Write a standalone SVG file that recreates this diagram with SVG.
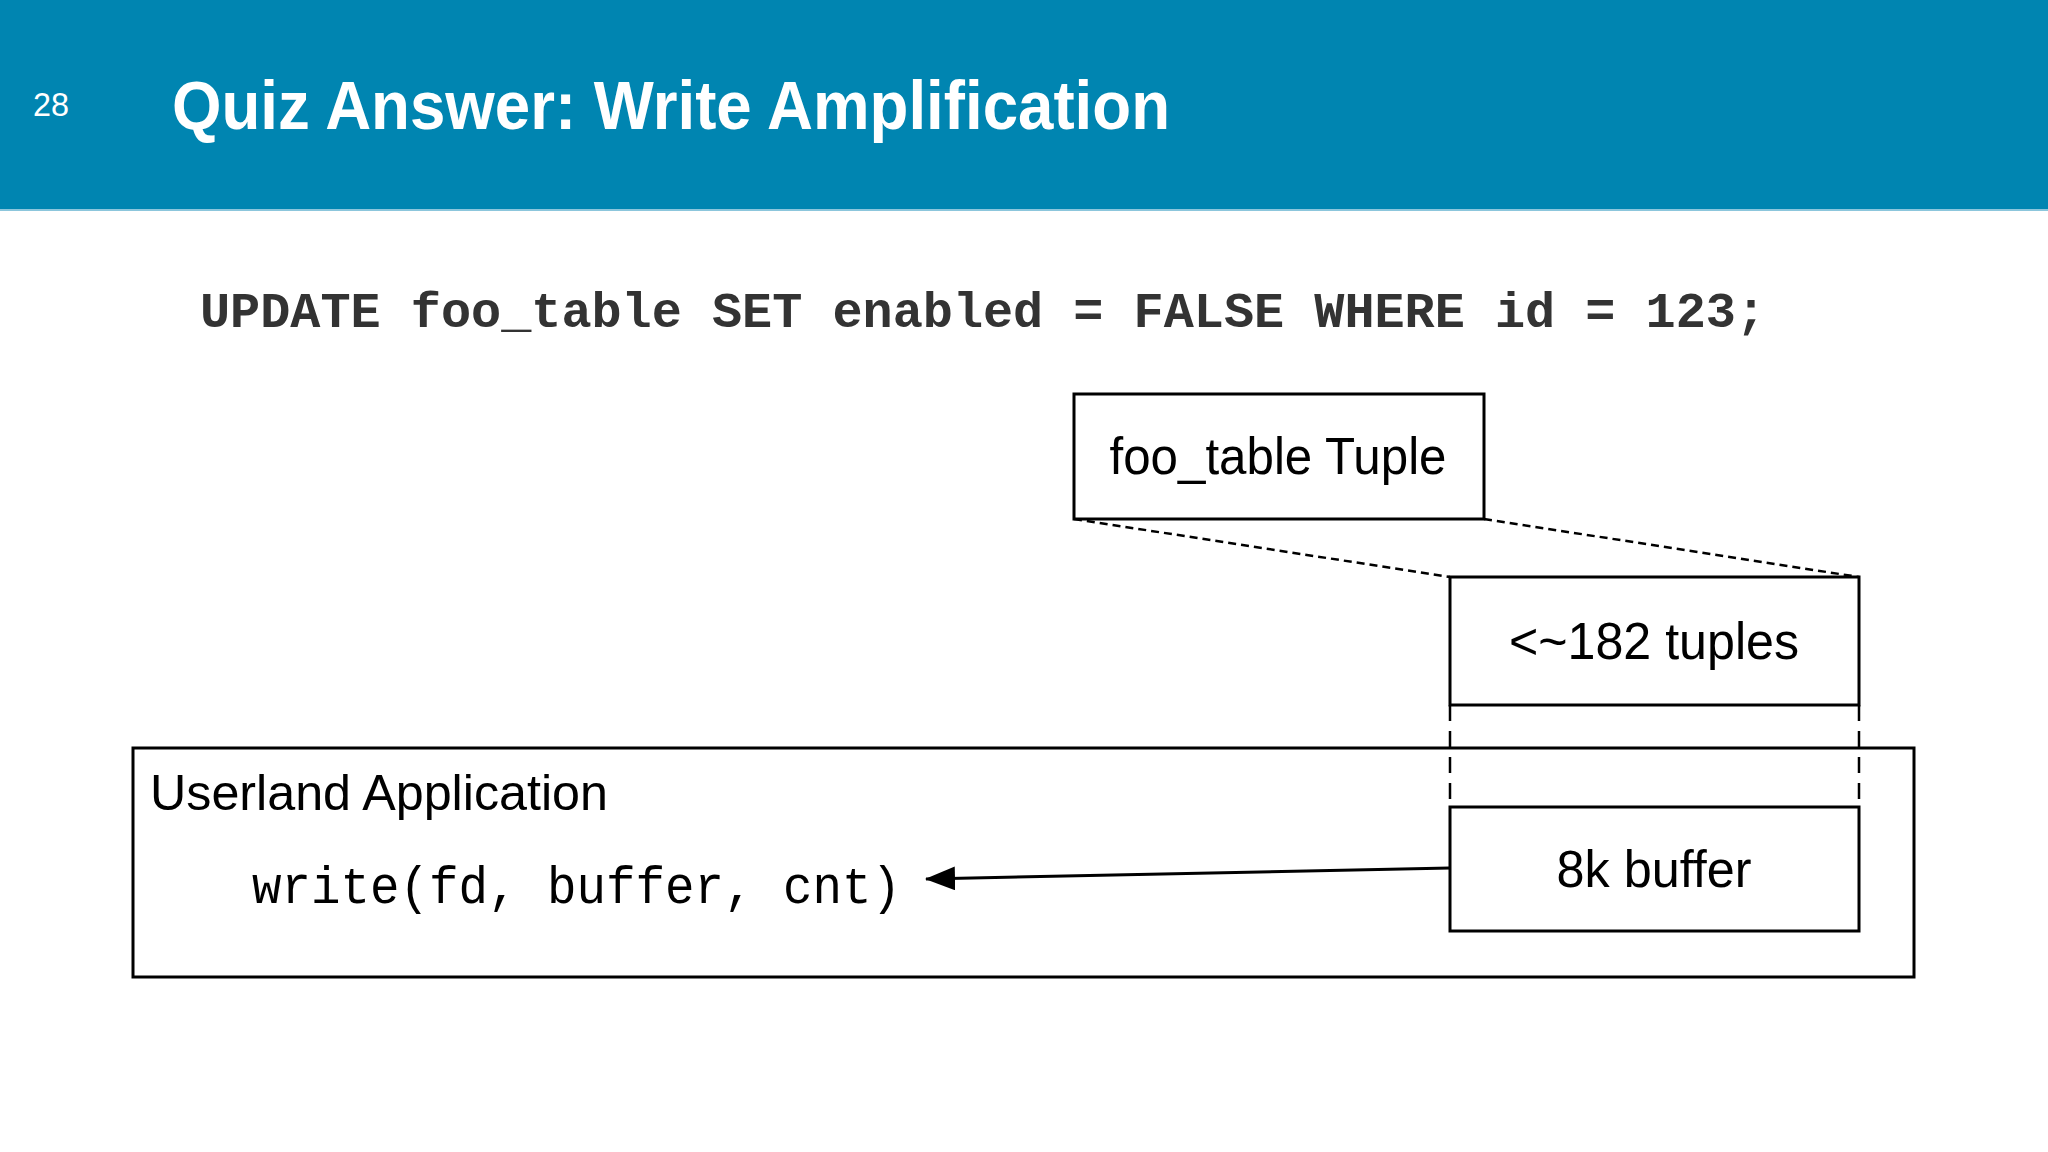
<svg xmlns="http://www.w3.org/2000/svg" width="2048" height="1152" viewBox="0 0 2048 1152">
  <style>
    .box { fill: #ffffff; stroke: #000000; stroke-width: 3; }
    .sans { font-family: "Liberation Sans", Arial, sans-serif; fill: #000000; }
    .mono { font-family: "Liberation Mono", "Courier New", monospace; }
    .dash1 { stroke: #000000; stroke-width: 2.5; stroke-dasharray: 8 5; fill: none; }
    .dash2 { stroke: #000000; stroke-width: 2.5; stroke-dasharray: 16 10; fill: none; }
    .conn { stroke: #000000; stroke-width: 3; fill: none; }
  </style>
  <defs>
    <marker id="arrow" markerUnits="userSpaceOnUse" markerWidth="30" markerHeight="24" refX="29" refY="12" orient="auto">
      <path d="M0,0 L30,12 L0,24 Z" fill="#000000"/>
    </marker>
  </defs>
  <rect x="0" y="0" width="2048" height="1152" fill="#ffffff"/>
  <g id="header">
    <rect x="0" y="0" width="2048" height="210" fill="#0085B1"/>
    <rect x="0" y="209" width="2048" height="2" fill="#8cc6dc"/>
    <text x="33" y="116" class="sans" style="fill:#ffffff;font-size:33px" textLength="36" lengthAdjust="spacingAndGlyphs">28</text>
    <text x="172" y="129" class="sans" style="fill:#ffffff;font-size:68px;font-weight:bold" textLength="998" lengthAdjust="spacingAndGlyphs">Quiz Answer: Write Amplification</text>
  </g>
  <g id="sql">
    <text x="200" y="327" class="mono" style="fill:#333333;font-size:50px;font-weight:bold" textLength="1566" lengthAdjust="spacingAndGlyphs">UPDATE foo_table SET enabled = FALSE WHERE id = 123;</text>
  </g>
  <g id="userland">
    <rect x="133" y="748" width="1781" height="229" class="box"/>
    <text x="150" y="810" class="sans" style="font-size:50px" textLength="458" lengthAdjust="spacingAndGlyphs">Userland Application</text>
    <text x="252" y="903" class="mono" style="fill:#000000;font-size:51px" textLength="649" lengthAdjust="spacingAndGlyphs">write(fd, buffer, cnt)</text>
  </g>
  <g id="tuple">
    <rect x="1074" y="394" width="410" height="125" class="box"/>
    <text x="1278" y="474" class="sans" style="font-size:52px" text-anchor="middle" textLength="337" lengthAdjust="spacingAndGlyphs">foo_table Tuple</text>
  </g>
  <g id="tuples">
    <rect x="1450" y="577" width="409" height="128" class="box"/>
    <text x="1654" y="659" class="sans" style="font-size:52px" text-anchor="middle" textLength="290" lengthAdjust="spacingAndGlyphs">&lt;~182 tuples</text>
  </g>
  <g id="buffer">
    <rect x="1450" y="807" width="409" height="124" class="box"/>
    <text x="1654" y="887" class="sans" style="font-size:52px" text-anchor="middle" textLength="195" lengthAdjust="spacingAndGlyphs">8k buffer</text>
  </g>
  <g id="connectors">
    <line x1="1074" y1="519" x2="1450" y2="577" class="dash1"/>
    <line x1="1484" y1="519" x2="1859" y2="577" class="dash1"/>
    <line x1="1450" y1="705" x2="1450" y2="807" class="dash2"/>
    <line x1="1859" y1="705" x2="1859" y2="807" class="dash2"/>
    <line x1="1450" y1="868" x2="926" y2="879" class="conn" marker-end="url(#arrow)"/>
  </g>
</svg>
